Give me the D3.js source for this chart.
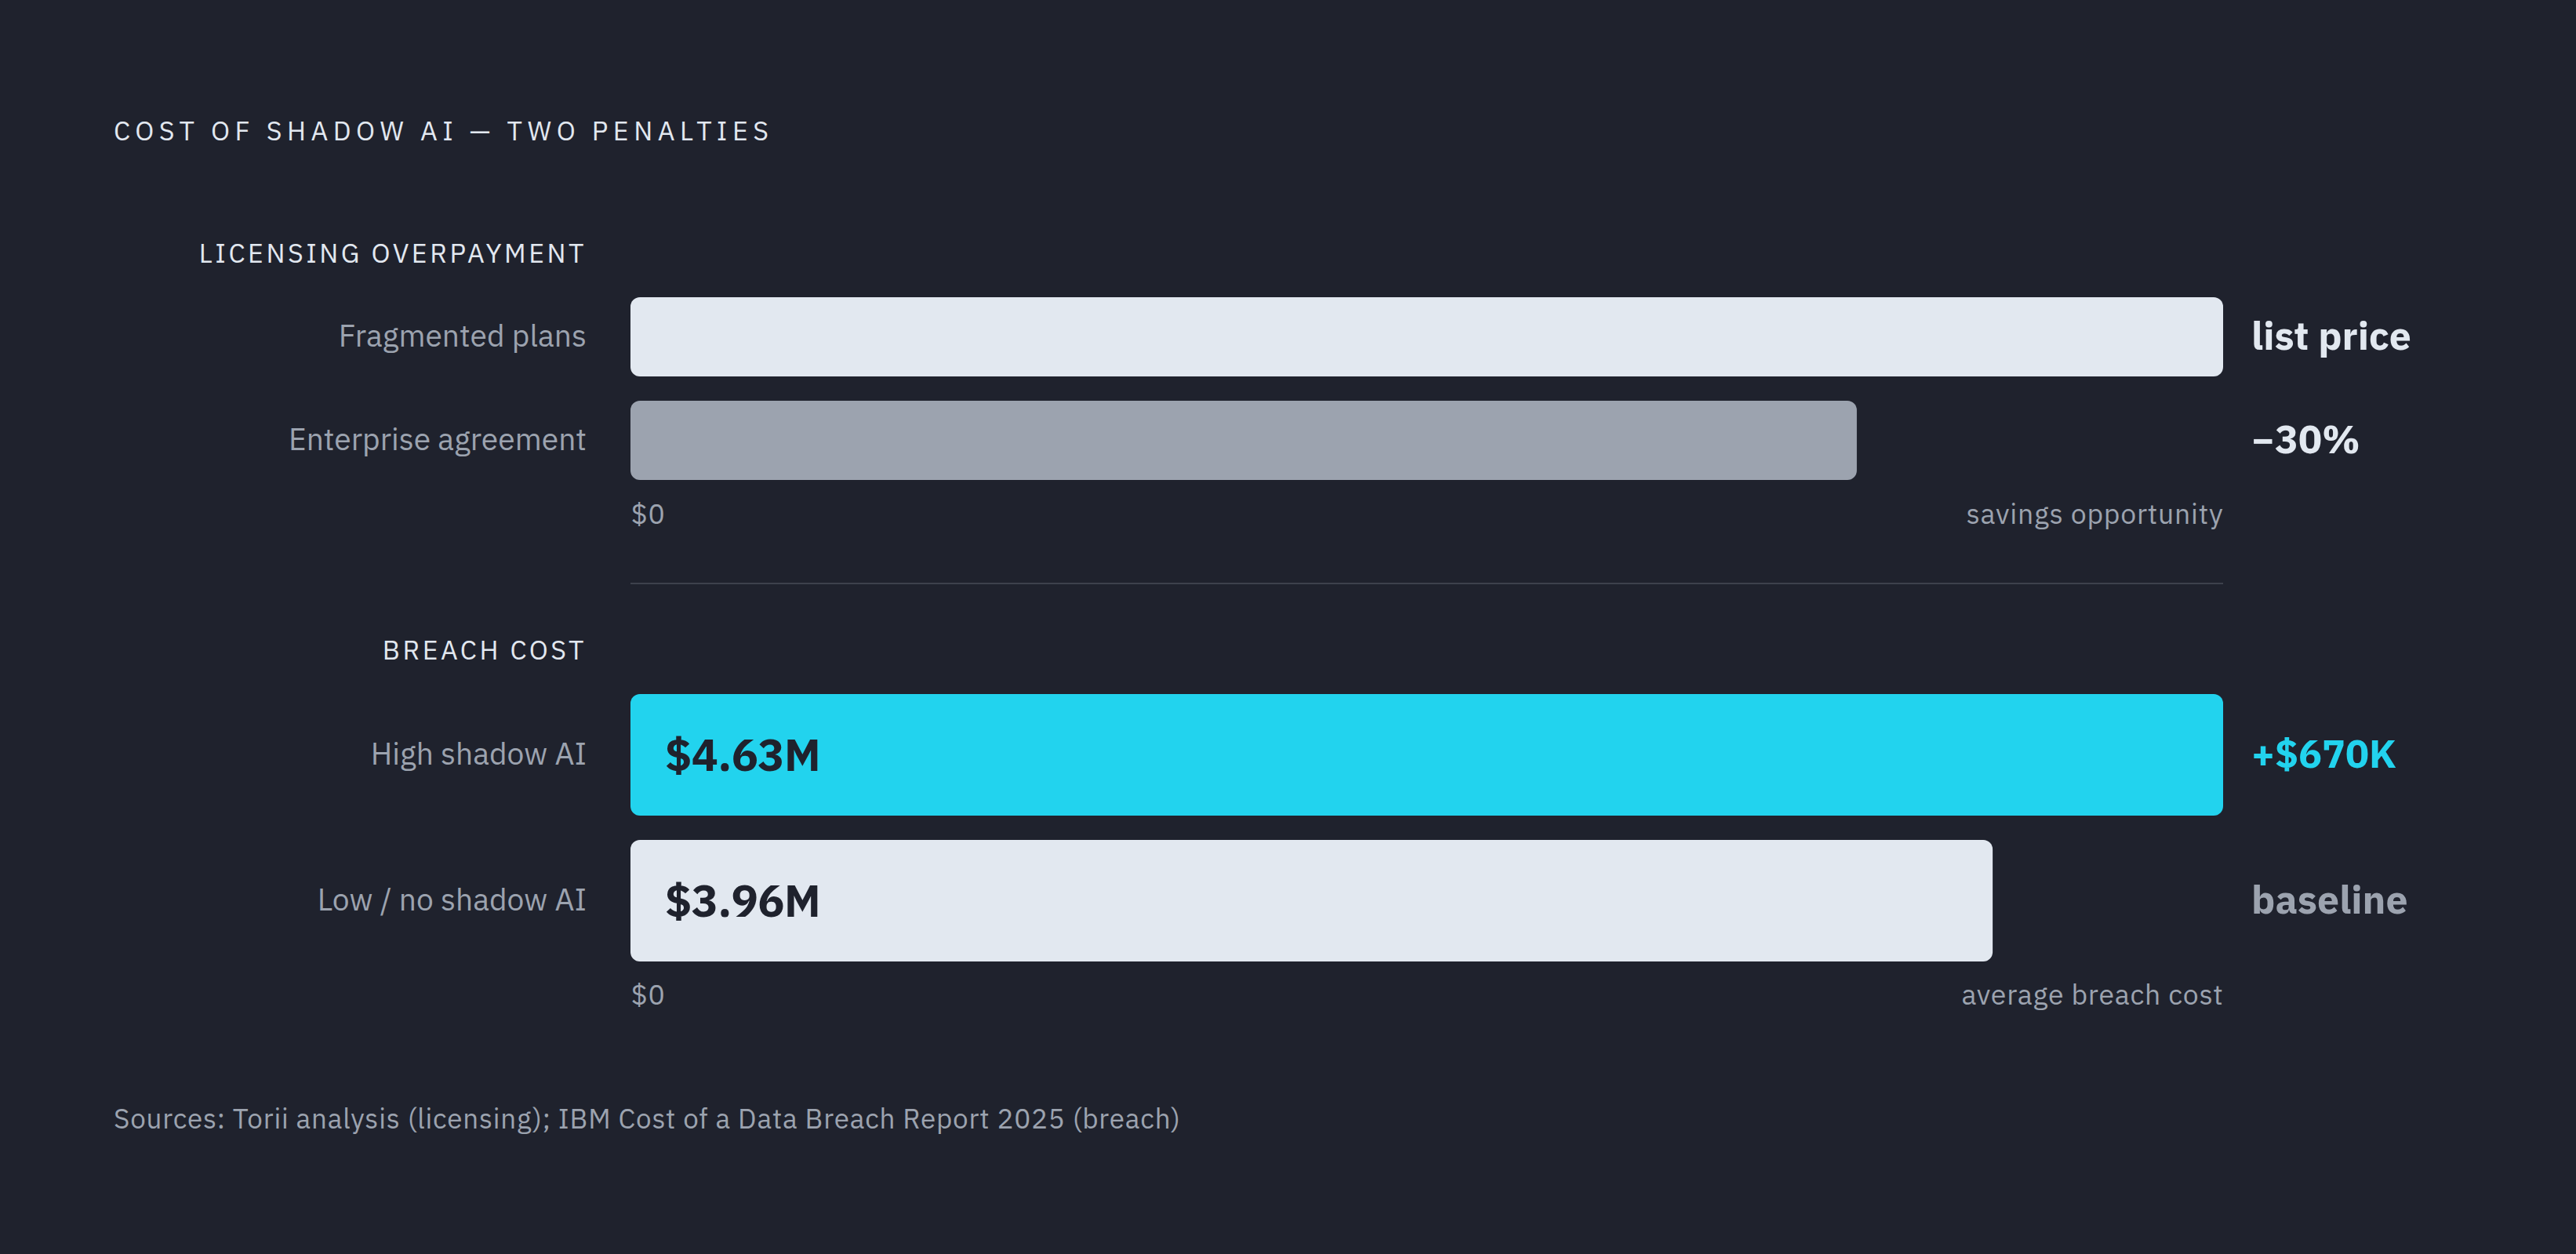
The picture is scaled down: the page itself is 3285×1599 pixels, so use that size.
<!DOCTYPE html>
<html>
<head>
<meta charset="utf-8">
<script src="https://cdn.jsdelivr.net/npm/d3@7"></script>
<style>
  html, body { margin: 0; padding: 0; background: #1f222d; }
  svg { display: block; }
  text { font-family: "IBM Plex Sans", Roboto, "Noto Sans", sans-serif; }
</style>
</head>
<body>
<svg id="chart"></svg>
<script>
// ---- data ----
const titleText = "COST OF SHADOW AI — TWO PENALTIES";
const licTitle = "LICENSING OVERPAYMENT";
const licCategories = ["Fragmented plans", "Enterprise agreement"];
const licValues = [100, 77];
const licNotes = ["list price", "−30%"];
const licAxisLabels = ["$0", "savings opportunity"];

const breachTitle = "BREACH COST";
const breachCategories = ["High shadow AI", "Low / no shadow AI"];
const breachValues = [4.63, 3.96];
const breachValueLabels = ["$4.63M", "$3.96M"];
const breachNotes = ["+$670K", "baseline"];
const breachAxisLabels = ["$0", "average breach cost"];

const sourceText = "Sources: Torii analysis (licensing); IBM Cost of a Data Breach Report 2025 (breach)";

// ---- layout / style ----
const W = 3285, H = 1599;
const BG = "#1f222d";
const LIGHT = "#e2e8f0", GREY = "#9ca3af", CYAN = "#22d3ee", DARK = "#1f222d";
const plotL = 804, plotR = 2835;
const labelX = 748, noteX = 2871;

const svg = d3.select("#chart").attr("width", W).attr("height", H)
  .style("background", BG);

svg.append("text").attr("x", 145).attr("y", 179)
  .attr("fill", LIGHT).attr("font-size", 34).attr("letter-spacing", "6.5px")
  .text(titleText);

function panel(opts) {
  const g = svg.append("g");
  const x = d3.scaleLinear().domain([0, opts.max]).range([plotL, plotR]);
  const y = d3.scaleBand().domain(opts.cats).range(opts.yRange)
    .paddingInner(opts.padInner).paddingOuter(0);

  g.append("text").attr("x", labelX).attr("y", opts.titleY)
    .attr("text-anchor", "end").attr("fill", LIGHT)
    .attr("font-size", 34).attr("letter-spacing", "3.5px")
    .text(opts.title);

  const rows = g.selectAll("g.row").data(opts.cats.map((c, i) => ({
    c, v: opts.vals[i], fill: opts.fills[i], note: opts.notes[i],
    noteFill: opts.noteFills[i], inner: opts.inner ? opts.inner[i] : null
  }))).join("g").attr("class", "row");

  rows.append("rect")
    .attr("x", x(0)).attr("y", d => y(d.c))
    .attr("width", d => x(d.v) - x(0)).attr("height", y.bandwidth())
    .attr("rx", 12).attr("ry", 12).attr("fill", d => d.fill);

  rows.append("text")
    .attr("x", labelX).attr("y", d => y(d.c) + y.bandwidth() / 2)
    .attr("dy", "0.33em").attr("text-anchor", "end")
    .attr("fill", GREY).attr("font-size", 39).text(d => d.c);

  rows.append("text")
    .attr("x", noteX).attr("y", d => y(d.c) + y.bandwidth() / 2)
    .attr("dy", "0.32em").attr("fill", d => d.noteFill)
    .attr("font-size", 50).attr("font-weight", 700).text(d => d.note);

  if (opts.inner) {
    rows.append("text")
      .attr("x", x(0) + 44).attr("y", d => y(d.c) + y.bandwidth() / 2)
      .attr("dy", "0.36em").attr("fill", DARK).attr("letter-spacing", "-0.5px")
      .attr("font-size", 57).attr("font-weight", 700).text(d => d.inner);
  }

  const axis = d3.axisBottom(x).tickValues([0, opts.max])
    .tickSize(0).tickPadding(0)
    .tickFormat((d, i) => opts.axisLabels[i]);
  const ag = g.append("g").attr("transform", `translate(0,${opts.axisY})`).call(axis);
  ag.select(".domain").remove();
  ag.selectAll(".tick text")
    .attr("y", 0).attr("dy", 0)
    .attr("fill", GREY).attr("font-size", 35.5).attr("letter-spacing", "0.8px")
    .attr("font-family", null)
    .attr("text-anchor", (d, i) => i === 0 ? "start" : "end");
  return x;
}

panel({
  title: licTitle, titleY: 335, cats: licCategories, vals: licValues,
  max: d3.max(licValues), yRange: [379, 612], padInner: 31 / 132,
  fills: [LIGHT, GREY], notes: licNotes, noteFills: [LIGHT, LIGHT],
  axisLabels: licAxisLabels, axisY: 668
});

svg.append("line").attr("x1", plotL).attr("x2", plotR)
  .attr("y1", 744).attr("y2", 744)
  .attr("stroke", "#3d414c").attr("stroke-width", 2);

panel({
  title: breachTitle, titleY: 841, cats: breachCategories, vals: breachValues,
  max: d3.max(breachValues), yRange: [885, 1226], padInner: 31 / 186,
  fills: [CYAN, LIGHT], notes: breachNotes, noteFills: [CYAN, GREY],
  inner: breachValueLabels, axisLabels: breachAxisLabels, axisY: 1281
});

svg.append("text").attr("x", 145).attr("y", 1439)
  .attr("fill", GREY).attr("font-size", 35).attr("letter-spacing", "0.8px")
  .text(sourceText);
</script>
</body>
</html>
